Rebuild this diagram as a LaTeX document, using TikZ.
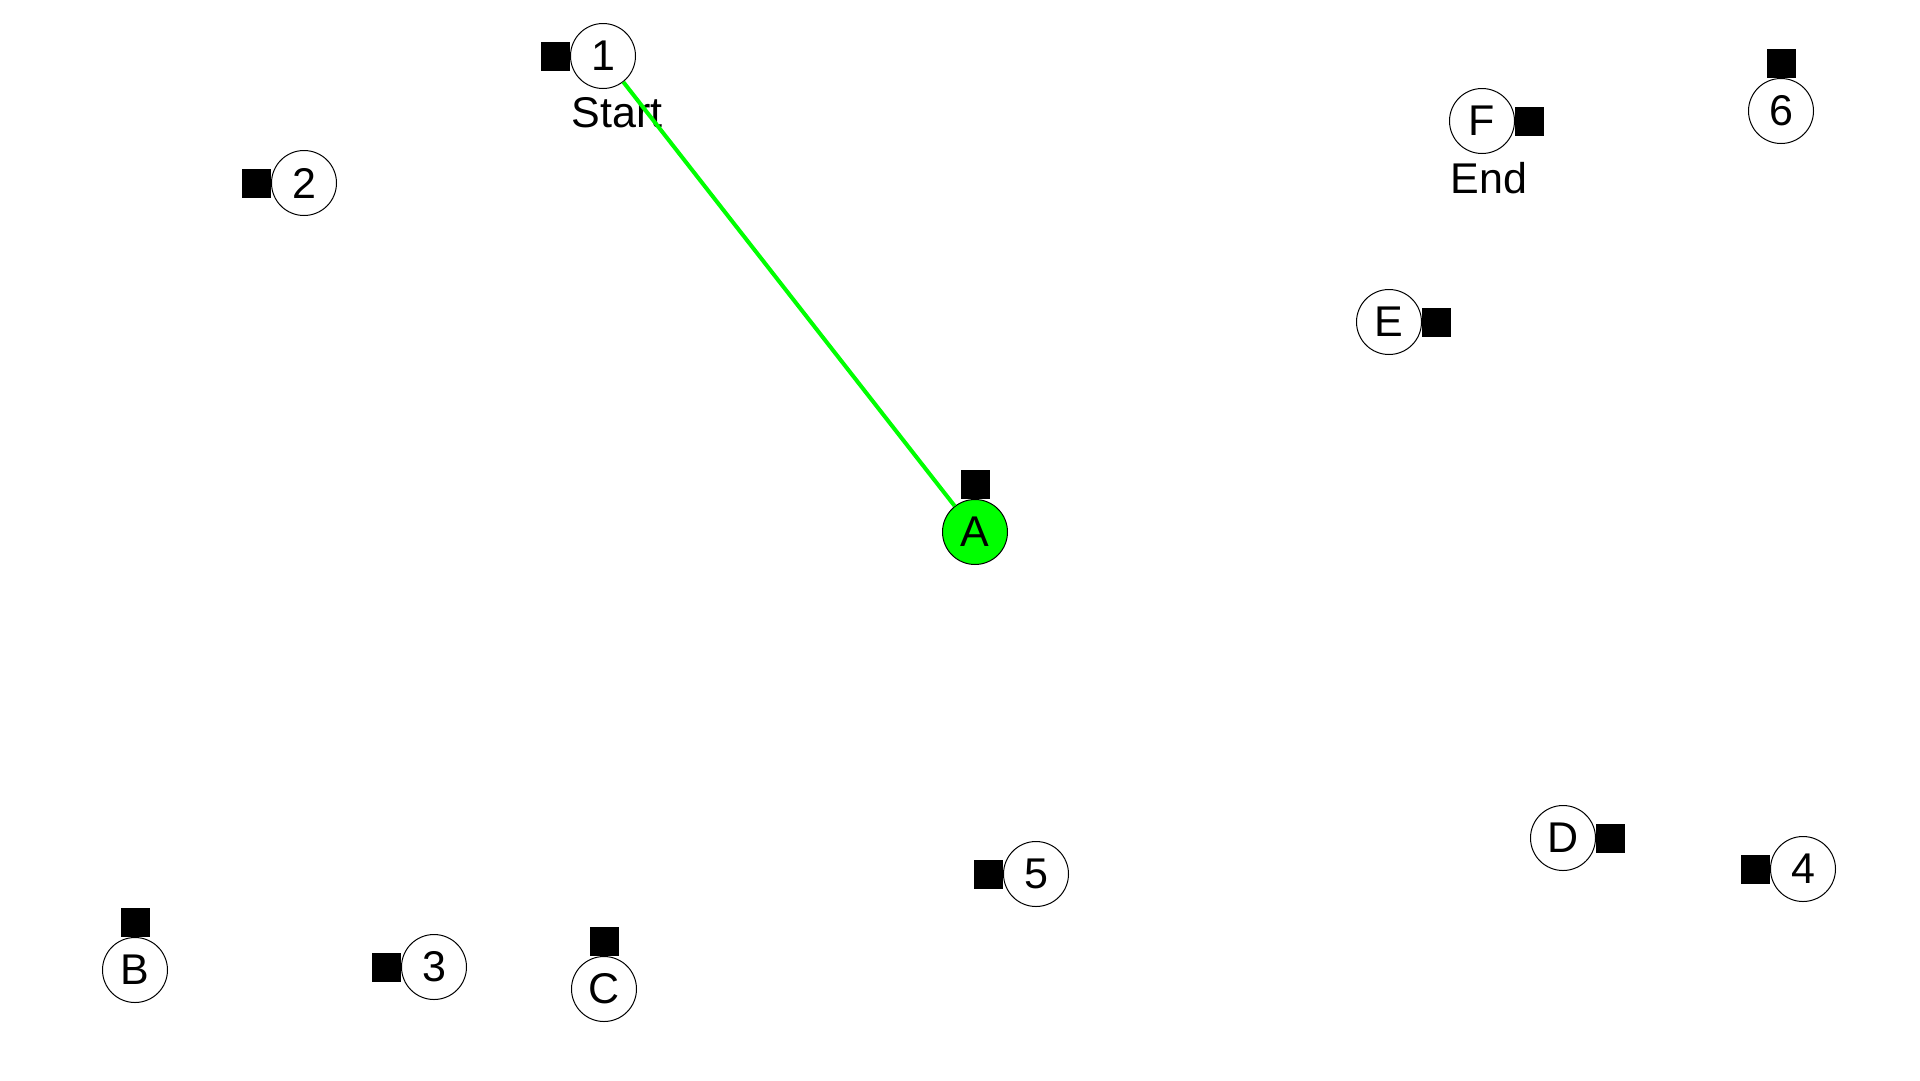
\documentclass[tikz,border=0pt]{standalone}
\usepackage{fontspec}
\setmainfont{Liberation Sans}
\usetikzlibrary{positioning}
\definecolor{pathgreen}{RGB}{0,255,0}
\tikzset{
    vertex/.style={circle, draw=black, line width=1pt, fill=white, minimum size=65pt, inner sep=0pt, font=\fontsize{43}{43}\selectfont},
    marker/.style={rectangle, fill=black, minimum size=29pt, inner sep=0pt, outer sep=0pt},
    tag/.style={inner sep=0pt, font=\fontsize{43}{43}\selectfont}
}
\begin{document}
\begin{tikzpicture}[x=1pt, y=-1pt]
        \useasboundingbox (0,0) rectangle (1920,1080);

        \node[vertex] (n1) at (603,56) {1};
        \node[vertex] (n2) at (304,183) {2};
        \node[vertex] (n3) at (434,967) {3};
        \node[vertex] (n4) at (1803,869) {4};
        \node[vertex] (n5) at (1036,874) {5};
        \node[vertex] (n6) at (1781,111) {6};
        \node[vertex, fill=pathgreen] (nA) at (975,532) {A};
        \node[vertex] (nB) at (135,970) {B};
        \node[vertex] (nC) at (604,989) {C};
        \node[vertex] (nD) at (1563,838) {D};
        \node[vertex] (nE) at (1389,322) {E};
        \node[vertex] (nF) at (1482,121) {F};

        \node[marker, left=0pt of n1] (m1) {};
        \node[marker, left=0pt of n2] (m2) {};
        \node[marker, left=0pt of n3] (m3) {};
        \node[marker, left=0pt of n4] (m4) {};
        \node[marker, left=0pt of n5] (m5) {};
        \node[marker, above=0pt of n6] (m6) {};
        \node[marker, above=0pt of nA] (mA) {};
        \node[marker, above=0pt of nB] (mB) {};
        \node[marker, above=0pt of nC] (mC) {};
        \node[marker, right=0pt of nD] (mD) {};
        \node[marker, right=0pt of nE] (mE) {};
        \node[marker, right=0pt of nF] (mF) {};

        \node[tag, below right=18pt and -8pt of n1.south west] (start) {Start};
        \node[tag, below right=18pt and -8pt of nF.south west] (end) {End};

        % path found so far
        \draw[pathgreen, line width=4pt] (n1) -- (nA);
\end{tikzpicture}
\end{document}
